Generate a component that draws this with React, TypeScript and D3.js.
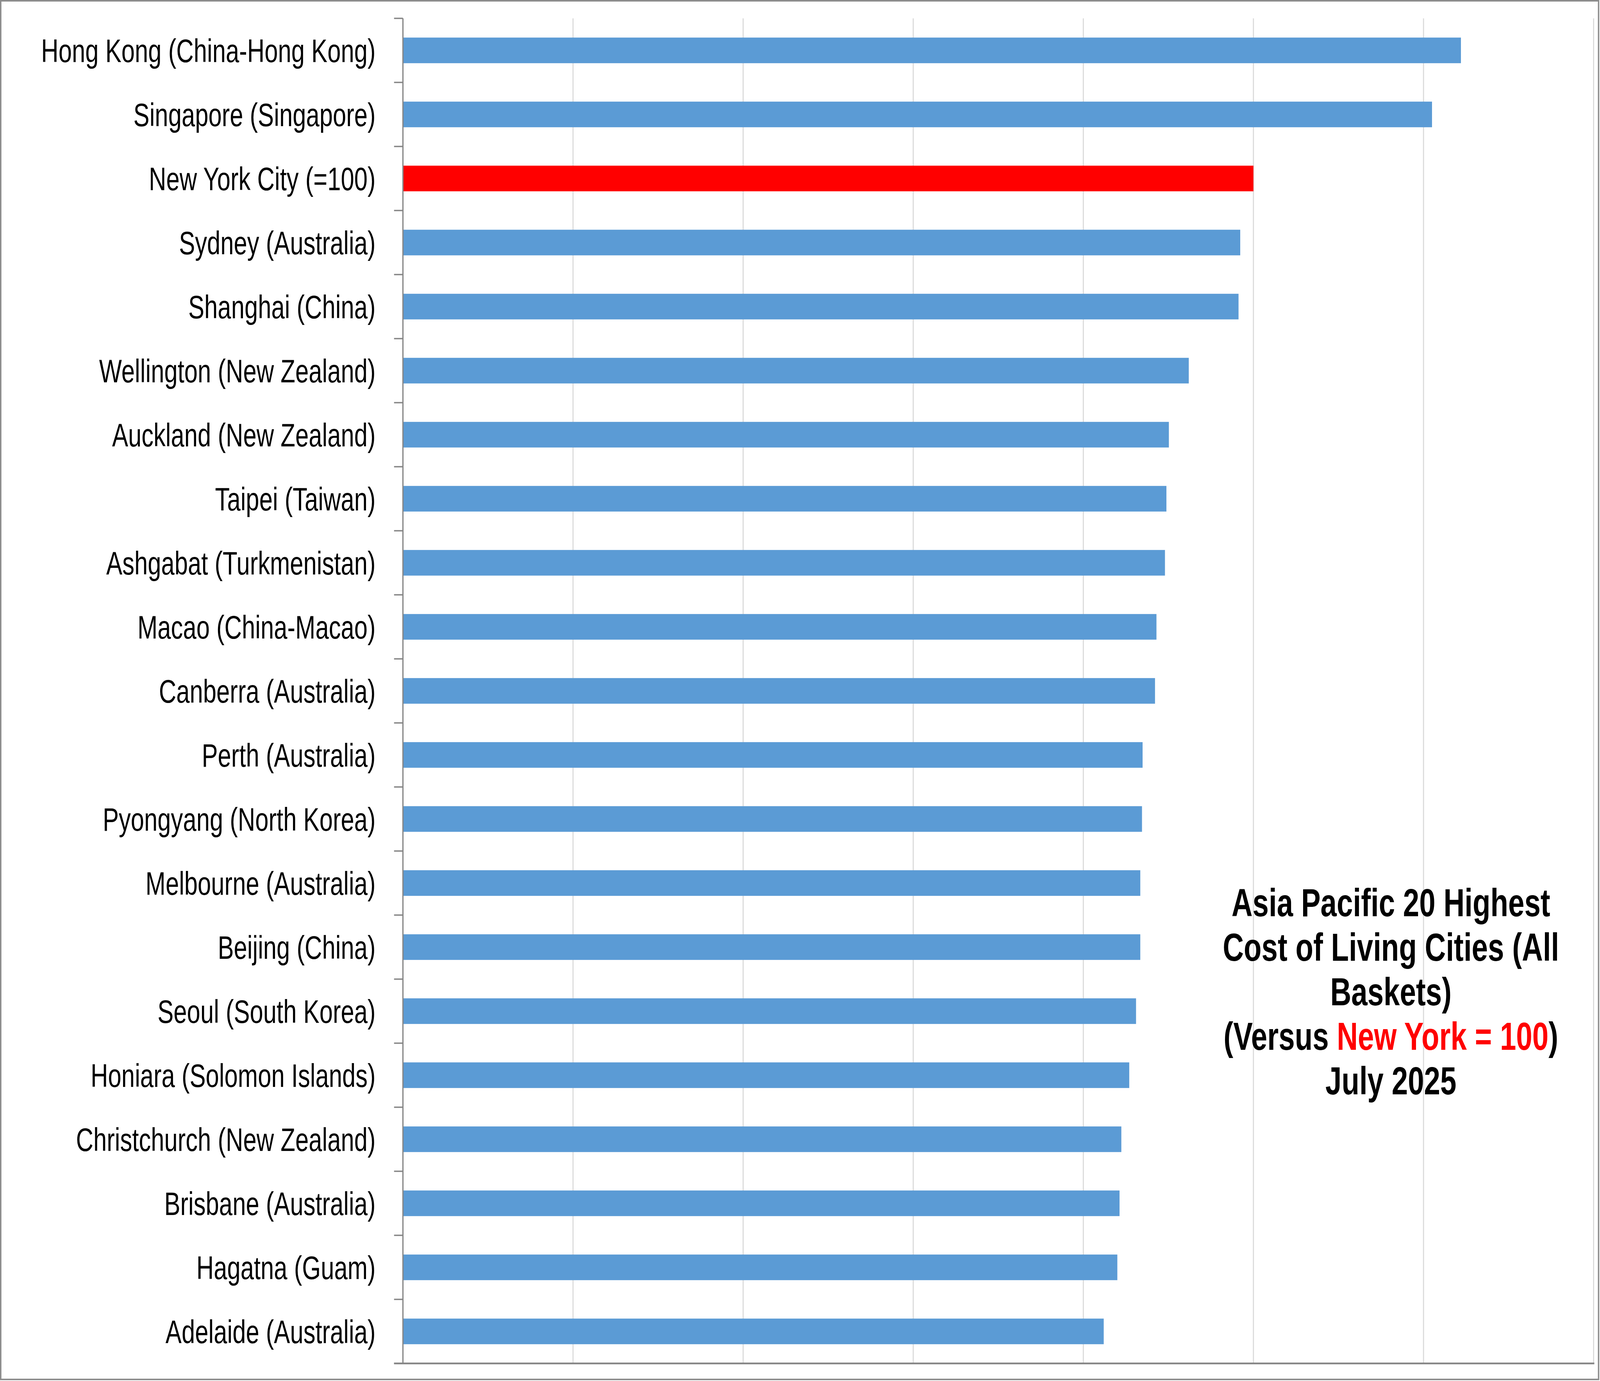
import * as d3 from 'd3';

// Asia Pacific cost of living, NYC = 100 (July 2025)
const cities = [
  'Hong Kong (China-Hong Kong)',
  'Singapore (Singapore)',
  'New York City (=100)',
  'Sydney (Australia)',
  'Shanghai (China)',
  'Wellington (New Zealand)',
  'Auckland (New Zealand)',
  'Taipei (Taiwan)',
  'Ashgabat (Turkmenistan)',
  'Macao (China-Macao)',
  'Canberra (Australia)',
  'Perth (Australia)',
  'Pyongyang (North Korea)',
  'Melbourne (Australia)',
  'Beijing (China)',
  'Seoul (South Korea)',
  'Honiara (Solomon Islands)',
  'Christchurch (New Zealand)',
  'Brisbane (Australia)',
  'Hagatna (Guam)',
  'Adelaide (Australia)',
];
const values = [
  124.4, 121.0, 100, 98.45, 98.25, 92.4, 90.06, 89.77, 89.6, 88.6, 88.43,
  86.97, 86.9, 86.7, 86.7, 86.2, 85.4, 84.47, 84.26, 84.0, 82.4,
];
const highlightCity = 'New York City (=100)';
const xDomain = [0, 140];

const titleLines = [
  'Asia Pacific 20 Highest',
  'Cost of Living Cities (All',
  'Baskets)',
];

const W = 4507;
const H = 3536;
const left = 1135;
const right = 4489;
const top = 47;
const bottom = 3491;

const barColor = '#5B9BD5';
const redColor = '#FF0000';
const axisColor = '#868686';
const gridColor = '#D9D9D9';
// Arial Narrow look: Liberation Sans squeezed horizontally
const font = '"Liberation Sans", Arial, sans-serif';
const narrow = 0.82;

export default function App() {
  const x = d3.scaleLinear().domain(xDomain).range([left, right]);
  const y = d3
    .scaleBand<string>()
    .domain(cities)
    .range([top, bottom])
    .paddingInner(0.6)
    .paddingOuter(0.3);
  const step = y.step();
  const gridTicks = d3.range(20, xDomain[1] + 1, 20);
  const boundaries = d3.range(cities.length + 1).map((i) => top + i * step);
  const labelSize = 82.7;
  const titleX = 3918;
  const titleBase = 2346;
  const lineGap = 114;

  return (
    <svg
      viewBox={`0 0 ${W} ${H}`}
      preserveAspectRatio="none"
      style={{
        position: 'absolute',
        left: 0,
        top: 0,
        width: '100vw',
        height: '100vh',
        display: 'block',
        background: '#fff',
      }}
    >
      <rect x={0} y={0} width={W} height={H} fill="#fff" />

      {/* gridlines */}
      {gridTicks.map((t) => (
        <line
          key={t}
          x1={x(t)}
          x2={x(t)}
          y1={top}
          y2={bottom}
          stroke={gridColor}
          strokeWidth={3}
        />
      ))}

      {/* bars */}
      {cities.map((c, i) => (
        <rect
          key={c}
          x={x(0)}
          y={y(c)}
          width={x(values[i]) - x(0)}
          height={y.bandwidth()}
          fill={c === highlightCity ? redColor : barColor}
        />
      ))}

      {/* category axis */}
      <line x1={left} x2={left} y1={top} y2={bottom} stroke={axisColor} strokeWidth={3.5} />
      {boundaries.map((b, i) => (
        <line key={i} x1={left - 25} x2={left} y1={b} y2={b} stroke={axisColor} strokeWidth={3.5} />
      ))}
      <line x1={left - 25} x2={right + 2} y1={bottom} y2={bottom} stroke={axisColor} strokeWidth={4.5} />

      {/* labels */}
      {cities.map((c) => (
        <text
          key={c}
          transform={`translate(1058,${(y(c) ?? 0) + y.bandwidth() / 2 + 29.5}) scale(${narrow},1)`}
          textAnchor="end"
          fontFamily={font}
          fontSize={labelSize}
          fill="#000"
        >
          {c}
        </text>
      ))}

      {/* title */}
      <g fontFamily={font} fontWeight="bold" fontSize={100} textAnchor="middle">
        {titleLines.map((t, i) => (
          <text key={t} transform={`translate(${titleX},${titleBase + i * lineGap}) scale(${narrow},1)`}>
            {t}
          </text>
        ))}
        <text transform={`translate(${titleX},${titleBase + 3 * lineGap}) scale(${narrow},1)`}>
          (Versus <tspan fill={redColor}>New York = 100</tspan>)
        </text>
        <text transform={`translate(${titleX},${titleBase + 4 * lineGap}) scale(${narrow},1)`}>
          July 2025
        </text>
      </g>

      {/* outer border */}
      <rect x={2} y={2} width={W - 6} height={H - 6} fill="none" stroke="#8C8C8C" strokeWidth={4} />
    </svg>
  );
}
